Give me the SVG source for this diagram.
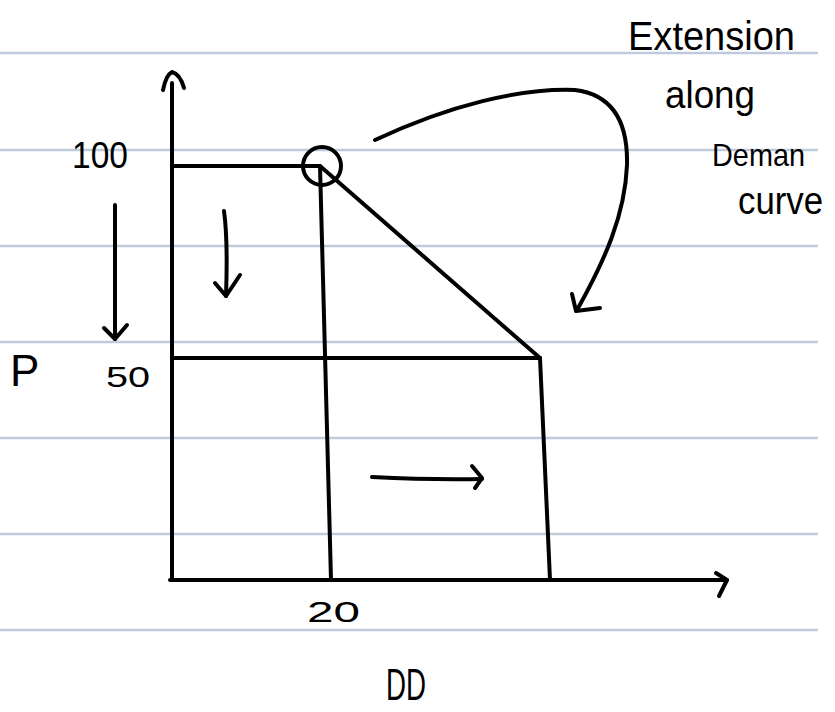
<svg xmlns="http://www.w3.org/2000/svg" width="835" height="712" viewBox="0 0 835 712">
<style>
.rule{stroke:#bfcbdc;stroke-width:2.5}
.ink{fill:none;stroke:#000;stroke-width:4;stroke-linecap:round;stroke-linejoin:round}
.t{font-family:"Liberation Sans","DejaVu Sans",sans-serif;fill:#000}
</style>
<rect width="835" height="712" fill="#fff"/>
<g id="rules">
<line class="rule" x1="0" y1="53" x2="818" y2="53"/>
<line class="rule" x1="0" y1="150" x2="818" y2="150"/>
<line class="rule" x1="0" y1="246" x2="818" y2="246"/>
<line class="rule" x1="0" y1="342" x2="818" y2="342"/>
<line class="rule" x1="0" y1="438" x2="818" y2="438"/>
<line class="rule" x1="0" y1="534" x2="818" y2="534"/>
<line class="rule" x1="0" y1="630" x2="818" y2="630"/>
</g>
<g id="axes">
<path class="ink" d="M172,580 L172,83"/>
<path class="ink" d="M163,90 Q166,75 172,72 Q180,74 184,88"/>
<path class="ink" d="M170,580 L727,580"/>
<path class="ink" d="M716,573 L727,580 L719,596"/>
</g>
<g id="curve">
<path class="ink" d="M172,166 L318,166"/>
<circle class="ink" cx="322" cy="166" r="19"/>
<path class="ink" d="M320,166 L331,580"/>
<path class="ink" d="M320,166 L540,358"/>
<path class="ink" d="M172,358 L540,358"/>
<path class="ink" d="M540,358 L550,580"/>
</g>
<g id="connectors">
<path class="ink" d="M375,140 C450,105 520,88 575,90 C615,95 628,125 627,165 C625,215 605,260 577,310"/>
<path class="ink" d="M572,294 L576,311 L600,308"/>
<path class="ink" d="M115,205 L115,339"/>
<path class="ink" d="M104,328 L115,339 L127,325"/>
<path class="ink" d="M224,211 Q228,240 226,296"/>
<path class="ink" d="M215,283 L226,296 L240,275"/>
<path class="ink" d="M372,477 Q430,480 482,479"/>
<path class="ink" d="M472,466 L482,478 L475,488"/>
</g>
<g id="labels">
<text class="t" x="628" y="50" font-size="40" textLength="167" lengthAdjust="spacingAndGlyphs">Extension</text>
<text class="t" x="665" y="108" font-size="38" textLength="90" lengthAdjust="spacingAndGlyphs">along</text>
<text class="t" x="712" y="166" font-size="32" textLength="93" lengthAdjust="spacingAndGlyphs">Deman</text>
<text class="t" x="738" y="214" font-size="38" textLength="85" lengthAdjust="spacingAndGlyphs">curve</text>
<text class="t" x="72" y="168" font-size="36" textLength="56" lengthAdjust="spacingAndGlyphs">100</text>
<text class="t" x="10" y="386" font-size="44">P</text>
<text class="t" x="106" y="387" font-size="30" textLength="44" lengthAdjust="spacingAndGlyphs">50</text>
<text class="t" x="307" y="622" font-size="30" textLength="53" lengthAdjust="spacingAndGlyphs">20</text>
<text class="t" x="386" y="700" font-size="44" textLength="40" lengthAdjust="spacingAndGlyphs">DD</text>
</g>
</svg>
